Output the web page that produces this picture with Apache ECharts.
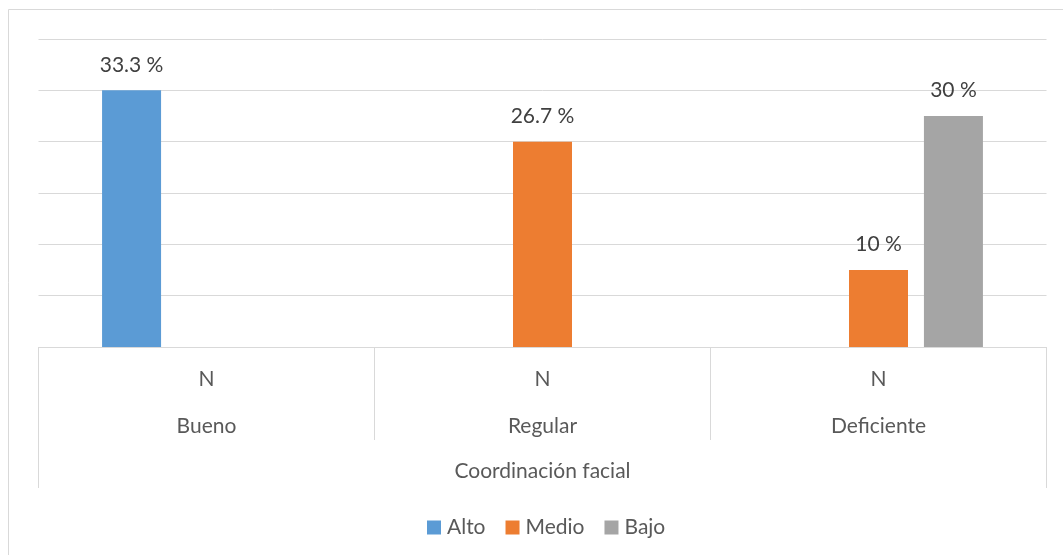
<!DOCTYPE html>
<html>
<head>
<meta charset="utf-8">
<script src="https://cdn.jsdelivr.net/npm/echarts@6/dist/echarts.min.js"></script>
<style>
html,body{margin:0;padding:0;background:#fff;}
#chart{width:1063px;height:555px;}
</style>
</head>
<body>
<div id="chart"></div>
<script>
const categories = ['Bueno', 'Regular', 'Deficiente'];
const subLabel = 'N';
const groupLabel = 'Coordinación facial';
const seriesNames = ['Alto', 'Medio', 'Bajo'];
const altoCounts = [10, null, null];
const medioCounts = [null, 8, 3];
const bajoCounts = [null, null, 9];
const altoPct = [33.3, null, null];
const medioPct = [null, 26.7, 10];
const bajoPct = [null, null, 30];
const yTicks = [0, 2, 4, 6, 8, 10, 12];

const FONT = 'Lato, "Noto Sans", sans-serif';
const FS = 21;
const gridRect = { left: 38.5, right: 16.5, top: 39, bottom: 208 };
const lineColor = '#d9d9d9';

function labelFor(pcts) {
  return {
    show: true,
    position: 'top',
    distance: 15,
    color: '#404040',
    fontFamily: FONT,
    fontSize: FS,
    formatter: p => pcts[p.dataIndex] == null ? '' : pcts[p.dataIndex] + ' %'
  };
}

const chart = echarts.init(document.getElementById('chart'));
chart.setOption({
  animation: false,
  backgroundColor: '#fff',
  graphic: [{
    type: 'rect',
    shape: { x: 8.5, y: 9.5, width: 1100, height: 600 },
    style: { fill: 'none', stroke: lineColor, lineWidth: 1 },
    silent: true
  }],
  legend: {
    data: seriesNames,
    left: 422,
    top: 512,
    icon: 'rect',
    itemWidth: 14,
    itemHeight: 14,
    itemGap: 20,
    textStyle: { color: '#595959', fontFamily: FONT, fontSize: FS, padding: [0, 0, 0, 1] }
  },
  grid: [
    Object.assign({}, gridRect),
    Object.assign({}, gridRect),
    Object.assign({}, gridRect)
  ],
  xAxis: [
    {
      type: 'category', gridIndex: 0, data: categories, position: 'bottom',
      axisLine: { show: true, lineStyle: { color: lineColor, width: 1 } },
      axisTick: { show: true, interval: 0, length: 93, lineStyle: { color: lineColor, width: 1 } },
      axisLabel: { show: true, interval: 0, margin: 21, color: '#595959', fontFamily: FONT, fontSize: FS, lineHeight: 22, formatter: () => subLabel }
    },
    {
      type: 'category', gridIndex: 1, data: categories, position: 'bottom',
      axisLine: { show: false }, axisTick: { show: false },
      axisLabel: { show: true, interval: 0, margin: 68, color: '#595959', fontFamily: FONT, fontSize: FS, lineHeight: 22 }
    },
    {
      type: 'category', gridIndex: 2, data: [groupLabel], position: 'bottom',
      axisLine: { show: false },
      axisTick: { show: true, interval: 0, length: 141, lineStyle: { color: lineColor, width: 1 } },
      axisLabel: { show: true, interval: 0, margin: 113, color: '#595959', fontFamily: FONT, fontSize: FS, lineHeight: 22 }
    }
  ],
  yAxis: [
    {
      type: 'value', gridIndex: 0, min: yTicks[0], max: yTicks[yTicks.length - 1], interval: yTicks[1] - yTicks[0],
      axisLine: { show: false }, axisTick: { show: false }, axisLabel: { show: false },
      splitLine: { show: true, lineStyle: { color: lineColor, width: 1 } }
    },
    { type: 'value', gridIndex: 1, show: false, splitLine: { show: false } },
    { type: 'value', gridIndex: 2, show: false, splitLine: { show: false } }
  ],
  series: [
    { name: seriesNames[0], type: 'bar', data: altoCounts, barWidth: 59, barGap: '27%', itemStyle: { color: '#5b9bd5' }, label: labelFor(altoPct) },
    { name: seriesNames[1], type: 'bar', data: medioCounts, barWidth: 59, barGap: '27%', itemStyle: { color: '#ed7d31' }, label: labelFor(medioPct) },
    { name: seriesNames[2], type: 'bar', data: bajoCounts, barWidth: 59, barGap: '27%', itemStyle: { color: '#a5a5a5' }, label: labelFor(bajoPct) }
  ]
});
</script>
</body>
</html>
